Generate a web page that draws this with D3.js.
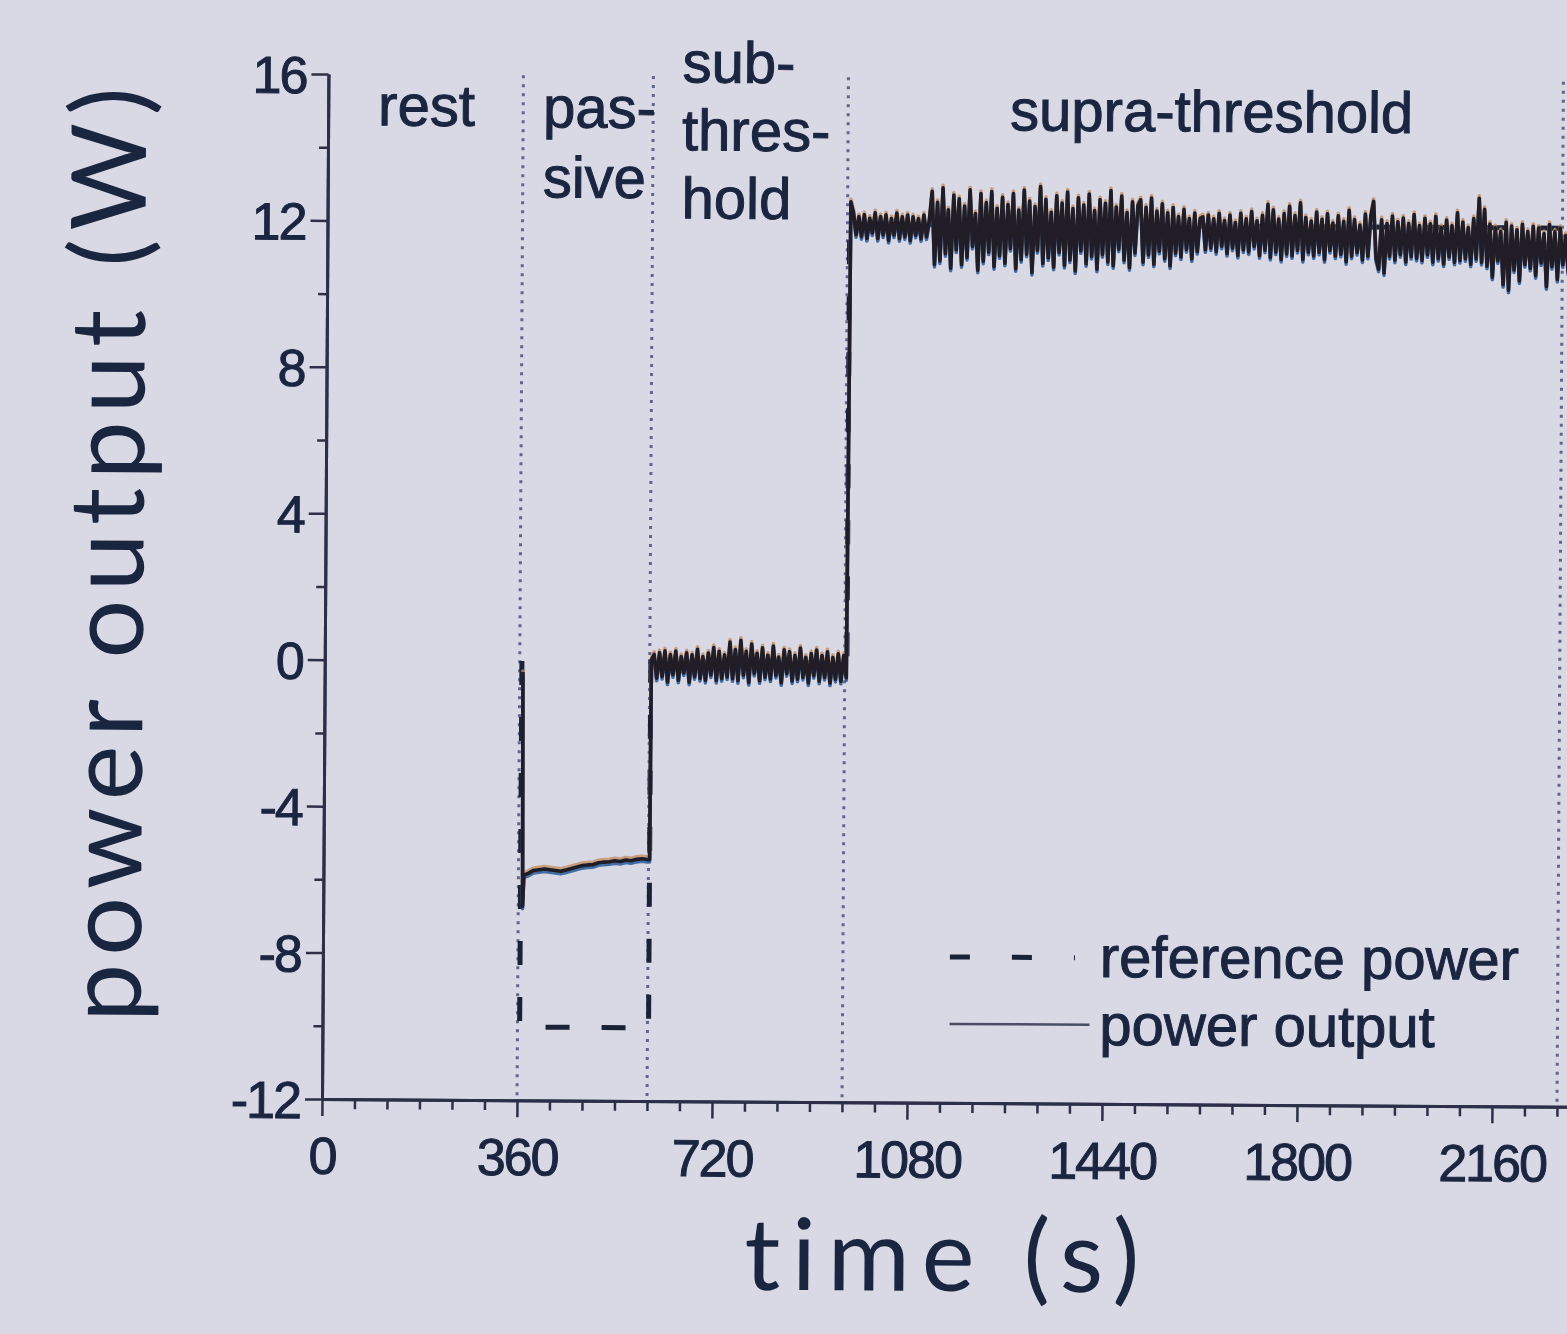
<!DOCTYPE html>
<html><head><meta charset="utf-8">
<script src="https://cdn.jsdelivr.net/npm/d3@7"></script>
<style>html,body{margin:0;padding:0;background:#d9d9e5;overflow:hidden}</style>
</head><body>
<svg id="c" width="1567" height="1334"></svg>
<script>
// ---------------- data ----------------
const phaseBounds = [360, 600, 960, 2280];
const phaseLabels = [["rest"], ["pas-", "sive"], ["sub-", "thres-", "hold"], ["supra-threshold"]];
const xTicks = [0, 360, 720, 1080, 1440, 1800, 2160];
const yTicks = [-12, -8, -4, 0, 4, 8, 12, 16];
const legendLabels = ["reference power", "power output"];

// reference power: step levels between change times
const refStartLevel = 0;
const refTimes = [364, 602, 964, 2320];
const refLevels = [-10, 0, 12];

// measured power output
const onsetTimes = [366, 368, 370];
const onsetOut = [-0.3, -6.7, -5.85];
const passiveStart = 378, passiveStep = 10;
const passiveOut = [-5.80, -5.72, -5.70, -5.68, -5.70, -5.72, -5.74, -5.70, -5.66, -5.62,
  -5.58, -5.56, -5.55, -5.50, -5.48, -5.47, -5.44, -5.46, -5.42, -5.44, -5.40, -5.38, -5.40];
const switchTimes = [602, 603];
const switchOut = [-5.40, 0.05];
const subStart = 608, subStep = 5;
const subOut = [0.20, -0.45, 0.25, -0.40, 0.30, -0.55, 0.20, -0.35, 0.30, -0.50,
  0.15, -0.30, 0.25, -0.55, 0.20, -0.40, 0.35, -0.45, 0.15, -0.50,
  0.25, -0.35, 0.40, -0.50, 0.30, -0.45, 0.20, -0.40, 0.55, -0.45,
  0.35, -0.50, 0.60, -0.35, 0.30, -0.55, 0.50, -0.30, 0.25, -0.50,
  0.40, -0.40, 0.20, -0.45, 0.45, -0.35, 0.15, -0.55, 0.35, -0.30,
  0.30, -0.50, 0.20, -0.45, 0.40, -0.40, 0.15, -0.55, 0.25, -0.35,
  0.35, -0.50, 0.20, -0.40, 0.30, -0.55, 0.15, -0.45, 0.25, -0.50,
  0.20, -0.40];
const supraStart = 966, supraStep = 5;
const supraOut = [
  // early, quiet
  12.60, 12.30, 11.70, 12.20, 11.65, 12.25, 11.60, 12.15, 11.75, 12.30,
  11.60, 12.20, 11.70, 12.25, 11.55, 12.15, 11.70, 12.30, 11.60, 12.20,
  11.65, 12.25, 11.55, 12.20, 11.70, 12.15, 11.60, 12.25, 11.65, 12.10,
  // heavy fluctuation
  12.90, 10.90, 12.60, 11.00, 13.00, 11.20, 12.40, 10.80, 12.80, 11.30,
  12.70, 10.90, 12.50, 11.10, 12.95, 11.40, 12.30, 10.75, 12.85, 11.00,
  12.60, 11.25, 12.90, 10.85, 12.45, 11.15, 12.75, 10.95, 12.55, 11.35,
  12.85, 10.80, 12.40, 11.05, 12.95, 11.20, 12.65, 10.70, 12.50, 11.30,
  13.05, 10.95, 12.70, 11.10, 12.35, 10.85, 12.80, 11.25, 12.60, 10.90,
  12.90, 11.05, 12.45, 10.75, 12.75, 11.30, 12.55, 10.95, 12.85, 11.15,
  12.40, 10.80, 12.70, 11.20, 12.60, 11.00, 12.95, 10.90, 12.50, 11.35,
  12.80, 11.05, 12.35, 10.85, 12.65, 11.25, 12.55,
  // tapering
  12.70, 11.00, 12.50, 11.20, 12.75, 10.95, 12.40, 11.30, 12.60, 11.10,
  12.35, 10.90, 12.50, 11.25, 12.25, 11.15, 12.45, 11.35, 12.20, 11.10,
  12.35, 11.30, 12.20,
  // moderate
  12.25, 11.35, 12.30, 11.40, 12.20, 11.30, 12.35, 11.45, 12.15, 11.25,
  12.30, 11.40, 12.10, 11.20, 12.35, 11.35, 12.20, 11.30, 12.40, 11.45,
  12.15, 11.20, 12.30, 11.35, 12.60, 11.15, 12.45, 11.30, 12.20, 11.10,
  12.35, 11.25, 12.55, 11.20, 12.30, 11.35, 12.65, 11.10, 12.25, 11.30,
  12.15, 11.20, 12.40, 11.30, 12.20, 11.10, 12.35, 11.35, 12.10, 11.20,
  12.30, 11.25, 12.15, 11.05, 12.45, 11.20, 12.20, 11.30, 12.05, 11.10,
  12.35, 11.20, 12.30, 12.70, 11.15, 10.85, 12.20, 10.75, 12.10, 11.20,
  12.30, 11.10, 12.15, 11.25, 12.25, 11.05, 12.10, 11.20, 12.35, 11.15,
  12.05, 11.10, 12.25, 11.25, 12.10, 11.05, 12.30, 11.15, 12.00, 11.00,
  12.20, 11.20, 12.05, 11.05, 12.40, 11.10, 12.15, 11.15, 12.00, 11.00,
  12.25, 11.15, 12.80, 11.05, 12.50, 10.95, 12.10, 10.65, 12.00, 11.10,
  11.90, 10.45, 12.15, 10.30, 12.05, 10.85, 11.95, 10.55, 12.10, 11.00,
  11.90, 10.90, 12.05, 10.70, 12.00, 11.05, 11.85, 10.40, 12.10, 10.95,
  11.90, 10.60, 12.00, 11.00, 11.80, 10.80, 11.95, 11.05];

// ---------------- drawing ----------------
const W = 1567, H = 1334;
const TEXT = "#1a2540";
const SANS = "'Liberation Sans', Arial, sans-serif";
const svg = d3.select("#c");
svg.append("rect").attr("width", W).attr("height", H).attr("fill", "#d9d9e5");
const g = svg.append("g").attr("transform", "rotate(0.36,322,1099)");

const x = d3.scaleLinear().domain([0, 2400]).range([322, 322 + 2400 * 195 / 360]);
const y = d3.scaleLinear().domain([-12, 16]).range([1099, 74]);

// phase separators
g.selectAll("line.sep").data(phaseBounds).join("line")
  .attr("class", "sep")
  .attr("x1", d => x(d)).attr("x2", d => x(d))
  .attr("y1", y(16)).attr("y2", y(-12))
  .attr("stroke", "#60658a").attr("stroke-width", 3)
  .attr("stroke-dasharray", "3,6");

// axes
function styleAxis(sel) {
  sel.select(".domain").attr("stroke", "#2b3048").attr("stroke-width", 3);
  sel.selectAll(".tick line").attr("stroke", "#2b3048").attr("stroke-width", 2.5);
  sel.selectAll(".tick text").attr("fill", TEXT).attr("stroke", TEXT).attr("stroke-width", 1)
    .style("font-family", SANS)
    .style("font-size", "52px").style("letter-spacing", "-2px");
}
const fmt = d => String(d);
const yMinor = d3.range(-10, 16, 4);
g.append("g").attr("transform", `translate(${x(0)},0)`)
  .call(d3.axisLeft(y).tickValues(yMinor).tickSize(9).tickSizeOuter(0).tickFormat(""))
  .call(styleAxis);
g.append("g").attr("transform", `translate(${x(0)},0)`)
  .call(d3.axisLeft(y).tickValues(yTicks).tickSize(17).tickSizeOuter(0).tickPadding(5).tickFormat(fmt))
  .call(styleAxis)
  .call(s => s.selectAll(".tick text").attr("dy", "0.36em"));

const xMinor = d3.range(60, 2400, 60).filter(v => v % 360 !== 0);
g.append("g").attr("transform", `translate(0,${y(-12)})`)
  .call(d3.axisBottom(x).tickValues(xMinor).tickSize(10).tickSizeOuter(0).tickFormat(""))
  .call(styleAxis);
g.append("g").attr("transform", `translate(0,${y(-12)})`)
  .call(d3.axisBottom(x).tickValues(xTicks).tickSize(17).tickSizeOuter(0).tickPadding(21).tickFormat(fmt))
  .call(styleAxis);

// reference power (step function)
const refPts = [[refTimes[0], refStartLevel]];
refLevels.forEach((lv, i) => { refPts.push([refTimes[i], lv]); refPts.push([refTimes[i + 1], lv]); });
const line = d3.line().x(d => x(d[0])).y(d => y(d[1]));
g.append("path").datum(refPts).attr("d", line)
  .attr("fill", "none").attr("stroke", "#1a2236").attr("stroke-width", 5)
  .attr("stroke-dasharray", "24,32");

// power output
const outPts = [];
onsetTimes.forEach((t, i) => outPts.push([t, onsetOut[i]]));
passiveOut.forEach((v, i) => outPts.push([passiveStart + i * passiveStep, v]));
switchTimes.forEach((t, i) => outPts.push([t, switchOut[i]]));
subOut.forEach((v, i) => outPts.push([subStart + i * subStep, v]));
supraOut.forEach((v, i) => outPts.push([supraStart + i * supraStep, v]));

const fringe = [
  {dy: -2.5, c: "#c08a5c", o: 0.75},
  {dy: 2.5, c: "#28599a", o: 0.85},
  {dy: 0, c: "#201d27", o: 1}
];
fringe.forEach(f => {
  g.append("path").datum(outPts).attr("d", line)
    .attr("transform", `translate(0,${f.dy})`)
    .attr("fill", "none").attr("stroke", f.c).attr("stroke-opacity", f.o)
    .attr("stroke-width", 3.6).attr("stroke-linejoin", "round");
});

// phase labels
const labelPos = [[372, 125], [537, 126], [676, 80], [1004, 126]];
const lineGap = [0, 70, 68, 0];
phaseLabels.forEach((lines, i) => {
  lines.forEach((s, j) => {
    g.append("text").attr("x", labelPos[i][0]).attr("y", labelPos[i][1] + j * lineGap[i])
      .text(s).attr("fill", TEXT).attr("stroke", TEXT).attr("stroke-width", 1)
      .style("font-family", SANS).style("font-size", "58px");
  });
});

// legend
g.append("line").attr("x1", 949).attr("x2", 1074).attr("y1", 953).attr("y2", 953)
  .attr("stroke", "#1a2236").attr("stroke-width", 5).attr("stroke-dasharray", "20,42");
g.append("line").attr("x1", 949).attr("x2", 1089).attr("y1", 1020).attr("y2", 1020)
  .attr("stroke", "#4a4e62").attr("stroke-width", 2.5);
legendLabels.forEach((s, i) => {
  g.append("text").attr("x", 1099).attr("y", 972 + i * 68).text(s)
    .attr("fill", TEXT).attr("stroke", TEXT).attr("stroke-width", 1)
    .style("font-family", SANS).style("font-size", "58px");
});

// axis titles
g.append("text").attr("transform", "translate(140,556) rotate(-90)")
  .attr("text-anchor", "middle").attr("textLength", 935).attr("lengthAdjust", "spacing")
  .text("power output (W)").attr("fill", TEXT)
  .style("font-family", "Lato, 'Open Sans', sans-serif").style("font-size", "104px")
  .style("font-variant-ligatures", "none");
g.append("text").attr("x", 943).attr("y", 1287)
  .attr("text-anchor", "middle").attr("textLength", 395).attr("lengthAdjust", "spacing")
  .text("time (s)").attr("fill", TEXT)
  .style("font-family", "Lato, 'Open Sans', sans-serif").style("font-size", "100px")
  .style("font-variant-ligatures", "none");
</script>
</body></html>
